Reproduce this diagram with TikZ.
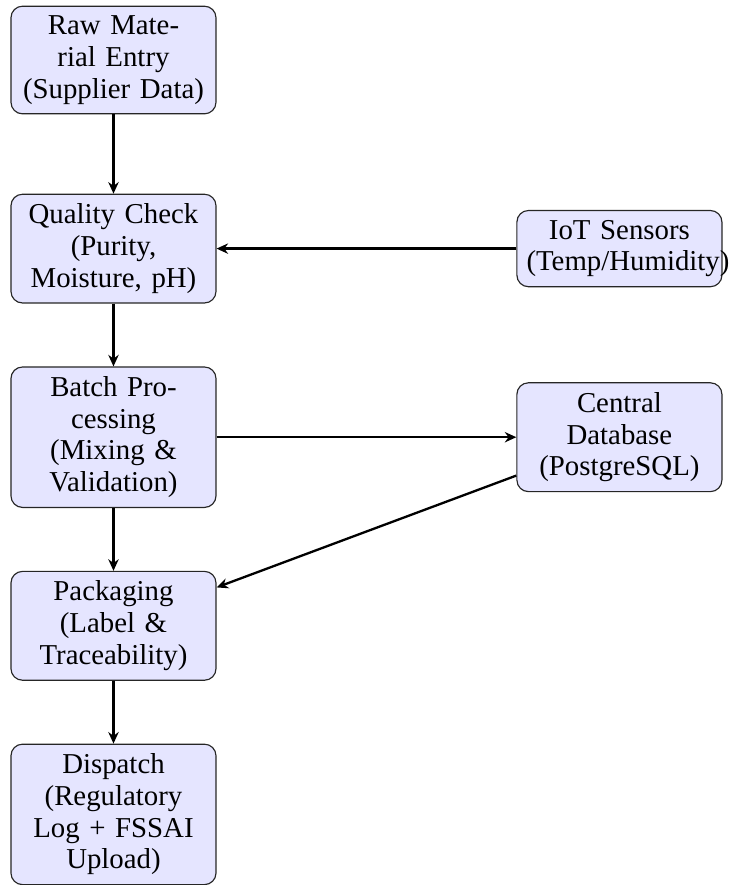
\documentclass[tikz,border=0pt]{standalone}
\usepackage{fontspec}
\setmainfont{Liberation Serif}
\usetikzlibrary{positioning}
\usetikzlibrary{arrows.meta,arrows}

\begin{document}
\begin{tikzpicture}[node distance={23mm}, thick, main/.style={rectangle, rounded corners, thin, draw=black!85, fill=blue!10, text width=2.266cm, align=center, font=\fontsize{10}{11}\selectfont}, ar/.style={-{Stealth[length=4pt, width=3.6pt]}}]
      \useasboundingbox (-1.384,0.732) rectangle (7.518,-10.061);
      \node[main] (1) {Raw Material Entry\\(Supplier Data)};
      \node[main] (2) [below of=1] {Quality Check\\(Purity, Moisture, pH)};
      \node[main] (3) [below of=2] {Batch Processing\\(Mixing \& Validation)};
      \node[main] (4) [below of=3] {Packaging\\(Label \& Traceability)};
      \node[main] (5) [below of=4] {Dispatch\\(Regulatory Log + FSSAI Upload)};
      \node[main] (6) [right of=2, node distance=61.7mm] {IoT Sensors\\(Temp/Humidity)};
      \node[main] (7) [right of=3, node distance=61.7mm] {Central Database\\(PostgreSQL)};

      \draw[ar] (1) -- (2);
      \draw[ar] (2) -- (3);
      \draw[ar] (3) -- (4);
      \draw[ar] (4) -- (5);
      \draw[ar] (6) -- (2);
      \draw[ar] (3) -- (7);
      \draw[ar] (7) -- (4);
    \end{tikzpicture}
\end{document}
